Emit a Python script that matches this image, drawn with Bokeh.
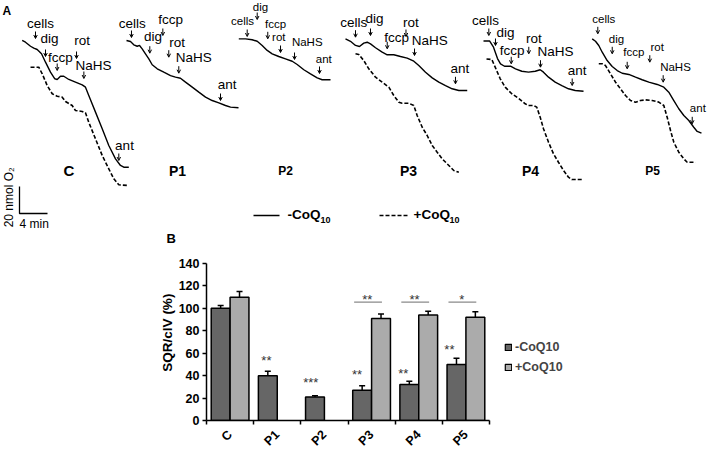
import numpy as np
from bokeh.plotting import figure
from bokeh.models import (Range1d, ColumnDataSource, Arrow, OpenHead, Legend, LegendItem,
                          FixedTicker, Whisker, TeeHead)
from bokeh.layouts import column, row
from bokeh.embed import file_html
from bokeh.resources import INLINE
from bokeh.core.properties import value

FONT = "Liberation Sans"

# ======================= DATA =======================
# ---- Panel A: oxygen traces (t in min from trace start, O2 in nmol) ----
panels = ["C", "P1", "P2", "P3", "P4", "P5"]
additions = ["cells", "dig", "fccp", "rot", "NaHS", "ant"]

c_t = [0, 0.47, 1.19, 1.66, 2.14, 2.76, 3.33, 4.04, 4.66, 5.0, 5.47, 5.94, 6.66, 7.61, 8.57,
       9.04, 9.51, 10.47, 11.43, 12.37, 13.33, 14.04, 14.51, 15.23]
c_o2 = [143.0, 141.7, 138.7, 137.3, 136.3, 133.1, 126.9, 119.5, 114.6, 114.1, 116.5, 116.5,
        114.1, 112.1, 110.1, 108.4, 102.2, 89.9, 77.6, 65.2, 55.3, 50.4, 49.1, 49.1]
c_tq = [1.19, 2.37, 2.86, 3.57, 4.29, 5.0, 5.71, 6.19, 7.14, 7.61, 8.57, 9.04, 9.51, 10.47,
        11.43, 12.37, 13.09, 13.8, 15.0]
c_o2q = [123.2, 123.2, 118.3, 109.6, 103.5, 101.7, 101.0, 97.8, 94.8, 91.1, 90.4, 89.4, 82.4,
         70.1, 57.8, 47.9, 40.5, 36.1, 35.6]
c_evt = [1.9, 3.33, 5.0, 7.76, 8.81, 13.8]

p1_t = [0, 0.57, 1.04, 1.53, 1.86, 2.24, 2.71, 3.19, 3.67, 4.39, 5.33, 6.29, 7.0, 7.71, 8.43,
        9.39, 10.33, 11.29, 12.24, 13.19, 14.14, 14.86, 16.0]
p1_o2 = [143.0, 142.2, 139.8, 138.7, 139.3, 136.8, 133.1, 129.4, 125.0, 122.0, 119.5, 117.0,
         115.8, 115.0, 112.1, 108.4, 104.7, 101.0, 98.5, 96.8, 94.8, 93.6, 93.1]
p1_evt = [0.71, 3.33, 5.19, 6.04, 7.47, 13.43]

p2_t = [0, 0.96, 1.91, 2.63, 3.34, 4.06, 4.77, 5.71, 6.67, 7.63, 8.34, 9.29, 10.24, 11.2,
        11.91, 13.1]
p2_o2 = [144.2, 144.2, 143.5, 142.4, 139.3, 135.6, 133.1, 131.1, 129.4, 127.6, 125.2, 121.3,
         118.3, 115.3, 113.9, 113.9]
p2_evt = [1.2, 2.63, 4.14, 5.96, 7.96, 11.53]

p3_t = [0, 0.71, 1.43, 2.0, 2.61, 3.1, 3.57, 4.29, 5.24, 5.96, 6.9, 7.86, 8.81, 9.76, 10.47,
        11.43, 12.39, 13.33, 14.29, 15.24, 16.19, 17.39]
p3_o2 = [144.2, 142.4, 139.3, 138.5, 141.0, 141.7, 140.5, 137.6, 134.3, 132.4, 132.4, 131.1,
         129.9, 127.6, 124.4, 119.5, 115.3, 112.1, 109.6, 107.2, 105.9, 105.9]
p3_tq = [1.43, 1.9, 2.61, 3.33, 4.29, 5.24, 6.19, 6.9, 7.61, 8.1, 9.04, 9.76, 10.24, 10.96,
         11.67, 12.39, 13.1, 13.81, 14.76, 15.47, 16.19]
p3_o2q = [133.1, 132.6, 128.1, 122.0, 115.8, 112.1, 108.4, 102.2, 97.3, 96.5, 96.5, 94.8, 87.4,
          78.7, 72.6, 65.2, 60.2, 55.3, 50.4, 46.7, 45.4]
p3_evt = [1.43, 3.57, 5.96, 8.64, 9.86, 15.71]

p4_t = [0, 0.86, 1.43, 2.0, 2.43, 3.0, 3.86, 4.57, 5.47, 6.43, 7.39, 8.1, 8.57, 9.29, 10.24,
        11.19, 12.14, 13.1, 14.29]
p4_o2 = [142.6, 142.6, 138.0, 129.6, 125.6, 123.9, 123.9, 122.0, 120.2, 119.5, 120.2, 121.3,
         119.5, 115.8, 112.1, 109.6, 107.2, 105.9, 105.4]
p4_tq = [0.43, 1.19, 1.67, 2.39, 3.1, 4.04, 5.0, 5.96, 6.43, 7.14, 7.61, 8.1, 8.57, 9.29,
         10.0, 10.71, 11.43, 12.14, 12.61, 14.04]
p4_o2q = [129.3, 128.9, 123.2, 114.6, 108.4, 103.5, 100.2, 96.1, 94.8, 94.8, 93.6, 86.1, 77.6,
          67.6, 59.0, 52.8, 46.7, 41.7, 40.0, 40.0]
p4_evt = [0.76, 1.71, 3.96, 6.47, 8.14, 12.67]

p5_t = [0, 0.47, 0.94, 1.43, 2.14, 2.86, 3.57, 4.29, 5.23, 6.19, 7.14, 8.09, 9.29, 10.23,
        10.94, 11.66, 12.37, 13.09, 13.8, 14.51, 15.0, 15.61]
p5_o2 = [144.2, 142.4, 139.3, 134.3, 128.1, 123.7, 120.7, 118.7, 117.8, 115.8, 113.9, 112.1,
         110.4, 108.4, 104.7, 98.5, 92.4, 87.4, 83.7, 78.7, 75.6, 74.3]
p5_tq = [0.94, 1.43, 1.9, 2.61, 3.33, 4.04, 4.76, 5.47, 6.19, 6.9, 7.61, 8.57, 9.51, 10.23,
         10.71, 11.19, 11.66, 12.37, 13.09, 13.57, 14.76]
p5_o2q = [125.7, 125.7, 124.4, 118.3, 112.1, 107.2, 102.2, 98.5, 97.3, 98.5, 99.0, 98.5, 97.3,
          94.8, 86.1, 76.3, 67.6, 60.2, 55.3, 52.8, 52.8]
p5_evt = [0.8, 2.86, 5.0, 8.23, 10.14, 14.29]

traces = {
    "C": (c_t, c_o2, c_tq, c_o2q, c_evt),
    "P1": (p1_t, p1_o2, None, None, p1_evt),
    "P2": (p2_t, p2_o2, None, None, p2_evt),
    "P3": (p3_t, p3_o2, p3_tq, p3_o2q, p3_evt),
    "P4": (p4_t, p4_o2, p4_tq, p4_o2q, p4_evt),
    "P5": (p5_t, p5_o2, p5_tq, p5_o2q, p5_evt),
}

# ---- Panel B: SQR/cIV (%) ----
cats = ["C", "P1", "P2", "P3", "P4", "P5"]
minus_vals = [100, 40, 21, 27, 32, 50]
minus_err = [2.5, 4, 1, 4, 3, 5.5]
plus_cats = ["C", "P3", "P4", "P5"]
plus_vals = [110, 91, 94, 92]
plus_err = [5, 4, 3.5, 5]
sig_cats = ["P1", "P2", "P3", "P4", "P5"]
sig_text = ["**", "***", "**", "**", "**"]
sig_level = [60, 40, 47, 48, 69.5]
pair_cats = ["P3", "P4", "P5"]
pair_text = ["**", "**", "*"]
y_ticks = [0, 20, 40, 60, 80, 100, 120, 140]
series_names = ["-CoQ10", "+CoQ10"]

# ======================= LAYOUT =======================
PX_MIN = 7.0     # px per minute (4 min scale bar)
PX_NMOL = 1.35   # px per nmol O2 (20 nmol scale bar)


def ax(px):
    return px / PX_MIN


def ay(py):
    return (233.0 - py) / PX_NMOL


panel_x0 = {"C": 21.7, "P1": 126, "P2": 238.3, "P3": 345, "P4": 483, "P5": 591.7}
# per addition: (arrow tip y px, text dx px, text centre y px)
label_layout = {
    "C": [(38, 5, 23.3), (56, 4, 38), (70, 3.3, 57), (58, 5.7, 40), (78, 9.7, 65), (160, 5.7, 145)],
    "P1": [(37, 0.7, 22.7), (52.7, 3.2, 36), (35, 7.7, 19.3), (56.7, 8.4, 41.7), (72.7, 15, 57.3),
           (100, 6.7, 84.3)],
    "P2": [(36, -4.7, 20), (19, 3.3, 6.5), (38.3, 7.7, 23.3), (52, -1.7, 36.7), (59, 12.7, 41.7),
           (73, 4.3, 58)],
    "P3": [(36.7, -1.7, 21.7), (35, 4, 18.3), (48.3, 9.3, 36.7), (36, 5, 21.7), (55, 15.3, 40),
           (83.3, 4.3, 68.3)],
    "P4": [(35, -3.3, 20), (45, 10, 31.7), (63.3, 1, 50), (53.3, 5, 38.3), (66.7, 15, 50.7),
           (85, 5, 70)],
    "P5": [(33.3, 6, 18.3), (53.3, 4.3, 38.3), (68.3, 6.6, 51.7), (61.7, 7.4, 46.7),
           (81.7, 12.3, 66.7), (123.3, 5.6, 107.3)],
}
label_size = {"C": "13.5px", "P1": "13.5px", "P2": "11.5px", "P3": "13.5px", "P4": "13.5px",
              "P5": "11.5px"}
name_layout = {"C": (6.66, "15px"), "P1": (7.29, "14px"), "P2": (6.67, "12px"),
               "P3": (9.0, "14px"), "P4": (6.71, "14px"), "P5": (8.61, "12px")}

# ======================= PANEL A =======================
pa = figure(width=709, height=250, x_range=Range1d(0, ax(709)), y_range=Range1d(ay(250), ay(0)),
            output_backend="svg", toolbar_location=None, min_border=0,
            x_axis_location=None, y_axis_location=None, outline_line_color=None)
pa.frame_align = False
pa.grid.visible = False

for k in panels:
    t, o, tq, oq, ev = traces[k]
    x0 = ax(panel_x0[k])
    pa.line(np.array(t) + x0, o, line_color="black", line_width=1.4)
    if tq is not None:
        pa.line(np.array(tq) + x0, oq, line_color="black", line_width=1.6, line_dash="4 2")
    xs = np.array(ev) + x0
    lay = label_layout[k]
    tips = [ay(l[0]) for l in lay]
    tops = [ay(l[0] - 7) for l in lay]
    src = ColumnDataSource(dict(xs=xs, ys=tops, xe=xs, ye=tips))
    pa.add_layout(Arrow(source=src, x_start="xs", y_start="ys", x_end="xe", y_end="ye",
                        line_width=1, line_color="black",
                        end=OpenHead(size=3.5, line_width=1, line_color="black")))
    pa.text(x=xs + np.array([l[1] for l in lay]) / PX_MIN, y=[ay(l[2]) for l in lay],
            text=additions, text_font=value(FONT), text_font_size=label_size[k],
            text_align="center", text_baseline="middle", text_color="black")
    nx, nfs = name_layout[k]
    pa.text(x=[x0 + nx], y=[ay(170)], text=[k], text_font=value(FONT), text_font_size=nfs,
            text_font_style="bold", text_align="center", text_baseline="middle", text_color="black")

# scale bar
SB_NMOL, SB_MIN = 20, 4
bx, by = ax(19), ay(213)
pa.line([bx, bx, bx + SB_MIN], [by + SB_NMOL, by, by], line_color="black", line_width=1.3)
pa.text(x=[ax(8)], y=[by + SB_NMOL * 0.6], text=["20 nmol O\u2082"], angle=np.pi / 2,
        text_font=value(FONT), text_font_size="12px", text_align="center", text_baseline="middle")
pa.text(x=[bx + SB_MIN / 2 + 0.1], y=[ay(223)], text=["4 min"], text_font=value(FONT),
        text_font_size="12px", text_align="center", text_baseline="middle")

# line legend
pa.line([ax(253), ax(279)], [ay(215)] * 2, line_color="black", line_width=1.4)
pa.line([ax(379), ax(408)], [ay(215)] * 2, line_color="black", line_width=1.6, line_dash="4 2")
for lx, lab, sx in [(287, "-CoQ", 320), (413, "+CoQ", 449)]:
    pa.text(x=[ax(lx)], y=[ay(214)], text=[lab], text_font=value(FONT), text_font_size="13.5px",
            text_font_style="bold", text_align="left", text_baseline="middle")
    pa.text(x=[ax(sx)], y=[ay(219)], text=["10"], text_font=value(FONT), text_font_size="9px",
            text_font_style="bold", text_align="left", text_baseline="middle")

pa.text(x=[ax(2)], y=[ay(10)], text=["A"], text_font=value(FONT), text_font_size="12px",
        text_font_style="bold", text_align="left", text_baseline="middle")
pa.text(x=[ax(166)], y=[ay(238)], text=["B"], text_font=value(FONT), text_font_size="13px",
        text_font_style="bold", text_align="left", text_baseline="middle")

# ======================= PANEL B =======================
DARK = "#666666"
LIGHT = "#ababab"
pb = figure(width=494, height=206, x_range=Range1d(0, len(cats)), y_range=Range1d(0, 140),
            output_backend="svg", toolbar_location=None,
            min_border_left=206, min_border_right=5, min_border_top=13, min_border_bottom=27,
            outline_line_color=None)
pb.frame_align = False
pb.grid.visible = False

ci = {c: i + 0.5 for i, c in enumerate(cats)}
xm = np.array([ci[c] for c in cats]) - 0.2
xp = np.array([ci[c] for c in plus_cats]) + 0.2

bar_style = dict(width=0.4, line_color="black", line_width=1.5)
pb.vbar(x=xm, top=minus_vals, fill_color=DARK, **bar_style)
pb.vbar(x=xp, top=plus_vals, fill_color=LIGHT, **bar_style)

for xs_, v, e in [(xm, minus_vals, minus_err), (xp, plus_vals, plus_err)]:
    s = ColumnDataSource(dict(x=xs_, lo=v, up=np.array(v) + np.array(e)))
    pb.add_layout(Whisker(source=s, base="x", lower="lo", upper="up", dimension="height",
                          line_width=1.5, line_color="black", lower_head=None,
                          upper_head=TeeHead(size=6, line_width=1.5, line_color="black")))

sig_dx = [-0.03, -0.09, -0.11, -0.13, -0.15]
pb.text(x=[ci[c] - 0.2 + d for c, d in zip(sig_cats, sig_dx)], y=sig_level, text=sig_text,
        text_font=value(FONT), text_font_size="13px", text_color="#333333",
        text_align="center", text_baseline="alphabetic", y_offset=7)

BRACKET = 105.5
pb.segment(x0=[ci[c] - 0.37 for c in pair_cats], x1=[ci[c] + 0.22 for c in pair_cats],
           y0=[BRACKET] * 3, y1=[BRACKET] * 3, line_color="#8a8a8a", line_width=1.3)
pb.text(x=[ci[c] - 0.09 for c in pair_cats], y=[BRACKET + 8.5] * 3, text=pair_text,
        text_font=value(FONT), text_font_size="13px", text_color="#333333",
        text_align="center", text_baseline="alphabetic", y_offset=7)

pb.yaxis.ticker = FixedTicker(ticks=y_ticks)
pb.xaxis.ticker = FixedTicker(ticks=[ci[c] for c in cats], minor_ticks=list(range(len(cats) + 1)))
pb.xaxis.major_label_overrides = {ci[c]: c for c in cats}
pb.xaxis.major_label_orientation = np.pi / 4
pb.xaxis.major_tick_out = 0
pb.xaxis.major_tick_in = 0
pb.xaxis.minor_tick_out = 4
pb.xaxis.minor_tick_in = 0
pb.xaxis.minor_tick_line_width = 1.5
pb.xaxis.minor_tick_line_color = "black"
pb.xaxis.major_label_standoff = 8
pb.xaxis.major_label_text_line_height = 0.5
pb.yaxis.major_tick_out = 4
pb.yaxis.major_tick_in = 0
pb.yaxis.minor_tick_out = 0
pb.yaxis.minor_tick_in = 0
pb.yaxis.major_label_standoff = 3
pb.yaxis.axis_label = "\u00a0" * 5 + "SQR/cIV (%)"
pb.yaxis.axis_label_standoff = 1
pb.yaxis.axis_label_text_font = FONT
pb.yaxis.axis_label_text_font_size = "13.5px"
pb.yaxis.axis_label_text_font_style = "bold"
pb.yaxis.axis_label_text_color = "black"
for a in [pb.xaxis, pb.yaxis]:
    a.axis_line_width = 1.5
    a.axis_line_color = "black"
    a.major_tick_line_width = 1.5
    a.major_tick_line_color = "black"
    a.major_label_text_font = FONT
    a.major_label_text_font_size = "12.5px"
    a.major_label_text_font_style = "bold"
    a.major_label_text_color = "black"

# legend figure (to the right of panel B)
pl = figure(width=215, height=206, x_range=Range1d(0, 1), y_range=Range1d(0, 1),
            output_backend="svg", toolbar_location=None, min_border=0,
            x_axis_location=None, y_axis_location=None, outline_line_color=None)
pl.frame_align = False
pl.grid.visible = False
lm = pl.vbar(x=[-5], top=[-5], fill_color=DARK, line_color="black", line_width=1.2, width=0.1)
lp = pl.vbar(x=[-5], top=[-5], fill_color=LIGHT, line_color="black", line_width=1.2, width=0.1)
legend = Legend(items=[LegendItem(label=series_names[0], renderers=[lm]),
                       LegendItem(label=series_names[1], renderers=[lp])],
                location=(10, 80), padding=0, margin=0, spacing=2,
                glyph_width=8, glyph_height=8, label_standoff=3, label_height=18,
                label_text_font=FONT, label_text_font_size="12.5px", label_text_font_style="bold",
                border_line_color=None, background_fill_alpha=0)
pl.add_layout(legend)

layout = column(pa, row(pb, pl))
open("out.html", "w").write(file_html(layout, INLINE))
